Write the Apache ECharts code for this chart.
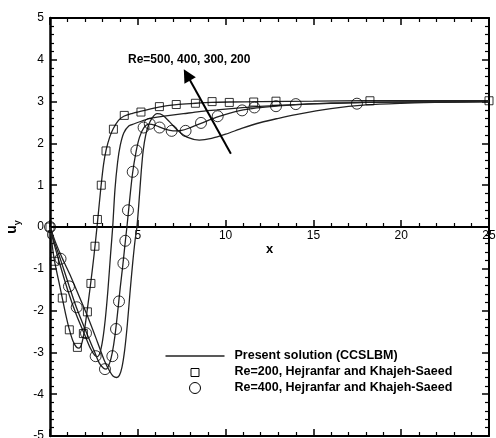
<!DOCTYPE html>
<html>
<head>
<meta charset="utf-8">
<script src="https://cdn.jsdelivr.net/npm/echarts@6/dist/echarts.min.js"></script>
<style>
  html, body { margin: 0; padding: 0; background: #ffffff; }
  #chart { width: 496px; height: 438px; }
</style>
</head>
<body>
<div id="chart"></div>
<script>
// Axis ranges and tick spacing
const xRange = [0, 25];
const xStep = 5;
const yRange = [-5, 5];
const yStep = 1;

// CCSLBM solution, u_y along x, for four Reynolds numbers
const re200 = [[0,0],[0.1,-0.35],[0.25,-0.8],[0.5,-1.3],[0.7,-1.7],[0.9,-2.1],[1.1,-2.45],[1.3,-2.72],[1.5,-2.87],[1.65,-2.9],[1.8,-2.8],[1.95,-2.5],[2.1,-2.05],[2.3,-1.4],[2.5,-0.7],[2.7,0.1],[2.9,0.95],[3.05,1.5],[3.2,1.85],[3.4,2.15],[3.6,2.35],[3.9,2.55],[4.2,2.65],[4.7,2.72],[5.2,2.77],[6.2,2.87],[7.2,2.93],[8.3,2.96],[9.2,2.98],[10.2,2.99],[12,3.0],[15,3.01],[18,3.02],[25,3.02]];
const re300 = [[0,0],[0.2,-0.35],[0.5,-0.8],[1.0,-1.5],[1.5,-2.1],[2.0,-2.6],[2.3,-2.9],[2.55,-3.07],[2.7,-3.1],[2.85,-3.0],[3.0,-2.7],[3.15,-2.2],[3.3,-1.5],[3.45,-0.65],[3.57,0],[3.7,0.9],[3.85,1.55],[4.0,1.95],[4.2,2.25],[4.5,2.42],[4.8,2.47],[5.2,2.53],[5.7,2.6],[6.5,2.65],[7.6,2.71],[8.5,2.76],[9.5,2.8],[10.5,2.84],[11.4,2.87],[12.5,2.9],[14,2.93],[16,2.96],[18,2.98],[21,2.99],[25,3.0]];
const re400 = [[0,0],[0.2,-0.3],[0.6,-0.78],[1.08,-1.4],[1.5,-1.92],[2.05,-2.5],[2.5,-2.95],[2.8,-3.25],[3.05,-3.38],[3.2,-3.4],[3.4,-3.25],[3.55,-3.0],[3.7,-2.6],[3.85,-2.05],[4.0,-1.45],[4.15,-0.9],[4.3,-0.3],[4.38,0],[4.5,0.5],[4.7,1.28],[4.9,1.8],[5.1,2.15],[5.35,2.38],[5.65,2.46],[6.0,2.43],[6.5,2.35],[7.0,2.3],[7.5,2.31],[8.0,2.38],[8.6,2.48],[9.5,2.63],[10.2,2.72],[11,2.8],[11.6,2.84],[12.9,2.89],[14,2.93],[16,2.96],[18,2.98],[21,2.99],[25,3.0]];
const re500 = [[0,0],[0.3,-0.35],[0.7,-0.75],[1.2,-1.2],[1.7,-1.7],[2.2,-2.2],[2.7,-2.75],[3.1,-3.2],[3.4,-3.45],[3.6,-3.57],[3.8,-3.6],[3.95,-3.55],[4.1,-3.35],[4.25,-2.95],[4.4,-2.35],[4.55,-1.6],[4.7,-0.9],[4.85,-0.3],[4.95,0],[5.05,0.5],[5.2,1.35],[5.31,1.84],[5.45,2.2],[5.6,2.42],[5.8,2.6],[6.1,2.71],[6.4,2.68],[6.8,2.52],[7.3,2.3],[7.8,2.15],[8.5,2.08],[9.2,2.12],[10,2.22],[11,2.37],[12,2.5],[13,2.6],[14,2.69],[16,2.83],[18,2.92],[20,2.96],[22,2.98],[25,3.0]];

// Hejranfar and Khajeh-Saeed reference points
const refRe200 = [[0,0],[0.25,-0.82],[0.70,-1.70],[1.10,-2.46],[1.56,-2.88],[1.90,-2.55],[2.13,-2.03],[2.33,-1.35],[2.56,-0.46],[2.70,0.18],[2.92,1.0],[3.19,1.82],[3.61,2.34],[4.23,2.67],[5.18,2.75],[6.23,2.88],[7.19,2.93],[8.28,2.96],[9.23,3.0],[10.21,2.98],[11.6,2.99],[12.87,3.01],[18.22,3.02],[25.0,3.02]];
const refRe400 = [[0,0],[0.6,-0.76],[1.08,-1.42],[1.52,-1.92],[2.05,-2.54],[2.60,-3.09],[3.13,-3.40],[3.55,-3.09],[3.76,-2.44],[3.93,-1.78],[4.18,-0.87],[4.29,-0.33],[4.44,0.40],[4.71,1.32],[4.92,1.83],[5.33,2.38],[5.68,2.47],[6.24,2.38],[6.93,2.30],[7.72,2.30],[8.60,2.49],[9.55,2.65],[10.94,2.79],[11.64,2.86],[12.87,2.89],[14.0,2.94],[17.48,2.95]];

// Arrow marking the direction of increasing Re (tail, head)
const reArrow = [[10.3, 1.75], [7.8, 3.64]];
const reArrowText = 'Re=500, 400, 300, 200';

const legendLabels = [
  'Present solution (CCSLBM)',
  'Re=200, Hejranfar and Khajeh-Saeed',
  'Re=400, Hejranfar and Khajeh-Saeed'
];

const FONT = '"Liberation Sans", Arial, Helvetica, sans-serif';
const INK = '#000';
const CURVE = '#222';

// Plot frame in pixels; the labelled x axis sits on u_y = 0, i.e. the
// upper half of the frame ends where the zero line lies.
const frame = { left: 50, right: 7, top: 18, bottom: 2 };
const W = 496, H = 438;
const zeroY = frame.top + (H - frame.top - frame.bottom) * (yRange[1] / (yRange[1] - yRange[0]));

const gridFull = Object.assign({ outerBoundsMode: 'none', containLabel: false }, frame);
const gridUpper = { left: frame.left, right: frame.right, top: frame.top, bottom: H - zeroY, outerBoundsMode: 'none', containLabel: false };

const tickCommon = {
  axisTick: { show: true, inside: true, length: 7, lineStyle: { color: INK, width: 1.5 } },
  minorTick: { show: true, splitNumber: 5, length: 4, lineStyle: { color: INK, width: 1.2 } },
  splitLine: { show: false },
  minorSplitLine: { show: false }
};

function curve(name, data) {
  return {
    name, type: 'line', xAxisIndex: 0, yAxisIndex: 0, data,
    showSymbol: false, smooth: 0.3, z: 3,
    lineStyle: { color: CURVE, width: 1.3 }
  };
}

const chart = echarts.init(document.getElementById('chart'), null, { renderer: 'canvas' });

chart.setOption({
  animation: false,
  backgroundColor: '#fff',
  grid: [gridFull, Object.assign({}, gridFull), gridUpper],
  xAxis: [
    // data axis (hidden) for the series
    { type: 'value', gridIndex: 0, min: xRange[0], max: xRange[1], interval: xStep, show: false },
    // bottom frame edge
    Object.assign({
      type: 'value', gridIndex: 1, min: xRange[0], max: xRange[1], interval: xStep,
      position: 'bottom',
      axisLine: { show: true, onZero: false, lineStyle: { color: INK, width: 2 } },
      axisLabel: { show: false }
    }, tickCommon),
    // top frame edge
    Object.assign({
      type: 'value', gridIndex: 1, min: xRange[0], max: xRange[1], interval: xStep,
      position: 'top',
      axisLine: { show: true, onZero: false, lineStyle: { color: INK, width: 2 } },
      axisLabel: { show: false }
    }, tickCommon),
    // labelled x axis along u_y = 0
    Object.assign({
      type: 'value', gridIndex: 2, min: xRange[0], max: xRange[1], interval: xStep,
      position: 'bottom',
      name: 'x', nameLocation: 'middle', nameGap: 15,
      nameTextStyle: { fontFamily: FONT, fontSize: 13, fontWeight: 'bold', color: INK },
      axisLine: { show: true, onZero: false, lineStyle: { color: INK, width: 2 } },
      axisLabel: { show: true, margin: 3, fontFamily: FONT, fontSize: 12, color: INK, showMinLabel: true }
    }, tickCommon)
  ],
  yAxis: [
    Object.assign({
      type: 'value', gridIndex: 0, min: yRange[0], max: yRange[1], interval: yStep,
      position: 'left',
      name: '{u|u}{s|y}', nameLocation: 'middle', nameGap: 24,
      nameTextStyle: {
        color: INK,
        rich: {
          u: { fontFamily: FONT, fontSize: 14, fontWeight: 'bold', color: INK, verticalAlign: 'top' },
          s: { fontFamily: FONT, fontSize: 9, fontWeight: 'bold', color: INK, verticalAlign: 'bottom', padding: [8, 0, 0, 0] }
        }
      },
      axisLine: { show: true, onZero: false, lineStyle: { color: INK, width: 2.5 } },
      axisLabel: { show: true, margin: 6, fontFamily: FONT, fontSize: 12, color: INK }
    }, tickCommon),
    Object.assign({
      type: 'value', gridIndex: 1, min: yRange[0], max: yRange[1], interval: yStep,
      position: 'right',
      axisLine: { show: true, onZero: false, lineStyle: { color: INK, width: 2 } },
      axisLabel: { show: false }
    }, tickCommon),
    { type: 'value', gridIndex: 2, min: 0, max: yRange[1], show: false }
  ],
  series: [
    curve('Re=200', re200),
    curve('Re=300', re300),
    curve('Re=400', re400),
    Object.assign(curve('Re=500', re500), {
      markLine: {
        silent: true,
        symbol: ['none', 'triangle'],
        symbolSize: 13,
        label: { show: false },
        lineStyle: { color: INK, width: 2, type: 'solid' },
        data: [[{ coord: reArrow[0] }, { coord: reArrow[1] }]]
      }
    }),
    {
      name: legendLabels[1], type: 'scatter', xAxisIndex: 0, yAxisIndex: 0,
      data: refRe200, symbol: 'rect', symbolSize: 8, z: 5,
      itemStyle: { color: 'rgba(255,255,255,0)', borderColor: INK, borderWidth: 1 }
    },
    {
      name: legendLabels[2], type: 'scatter', xAxisIndex: 0, yAxisIndex: 0,
      data: refRe400, symbol: 'circle', symbolSize: 11, z: 5,
      itemStyle: { color: 'rgba(255,255,255,0)', borderColor: INK, borderWidth: 1 }
    }
  ],
  graphic: [
    {
      type: 'text', left: 128, top: 54, z: 10,
      style: { text: reArrowText, fontFamily: FONT, fontSize: 12, fontWeight: 'bold', fill: INK }
    },
    {
      type: 'group', left: 163, top: 349, z: 10,
      children: [
        { type: 'line', shape: { x1: 0, y1: 7, x2: 59, y2: 7 }, style: { stroke: CURVE, lineWidth: 1.3 } },
        { type: 'rect', shape: { x: 25.5, y: 19.5, width: 8, height: 8 }, style: { fill: 'none', stroke: INK, lineWidth: 1 } },
        { type: 'circle', shape: { cx: 29.5, cy: 39, r: 5.5 }, style: { fill: 'none', stroke: INK, lineWidth: 1 } },
        { type: 'text', x: 69, y: 0, style: { text: legendLabels[0], fontFamily: FONT, fontSize: 12.5, fontWeight: 'bold', fill: INK } },
        { type: 'text', x: 69, y: 16, style: { text: legendLabels[1], fontFamily: FONT, fontSize: 12.5, fontWeight: 'bold', fill: INK } },
        { type: 'text', x: 69, y: 32, style: { text: legendLabels[2], fontFamily: FONT, fontSize: 12.5, fontWeight: 'bold', fill: INK } }
      ]
    }
  ]
});
</script>
</body>
</html>
